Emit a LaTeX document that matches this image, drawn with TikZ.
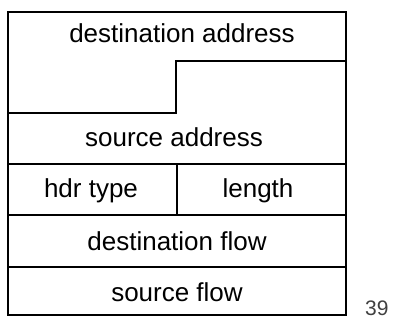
\documentclass[tikz,border=0pt]{standalone}
\usepackage{fontspec}
\setmainfont{Liberation Sans}
\begin{document}
\begin{tikzpicture}[x=1pt,y=-1pt,
  frame/.style={line width=2pt},
  divider/.style={line width=1.6pt},
  field/.style={font=\fontsize{26}{30}\selectfont, inner sep=0pt, anchor=base}]
\useasboundingbox (0,0) rectangle (393,320);
% outer frame
\draw[frame] (8,12) rectangle (346,315);
% stepped boundary between the two addresses
\draw[divider] (346,61) -- (176,61) -- (176,113) -- (8,113);
% row separators
\draw[divider] (8,164) -- (346,164);
\draw[divider] (8,215) -- (346,215);
\draw[divider] (8,267) -- (346,267);
% column separator in the header row
\draw[divider] (177,164) -- (177,215);
% field labels
\node[field] (dstaddr) at (182,43) {destination address};
\node[field] (srcaddr) at (174,147) {source address};
\node[field] (hdrtype) at (91,198) {hdr type};
\node[field] (length)  at (258,198) {length};
\node[field] (dstflow) at (177,250) {destination flow};
\node[field] (srcflow) at (177,301) {source flow};
% page number
\node[font=\fontsize{21}{25}\selectfont, text=black!75, inner sep=0pt, anchor=base west] (page) at (365,315) {39};
\end{tikzpicture}
\end{document}
